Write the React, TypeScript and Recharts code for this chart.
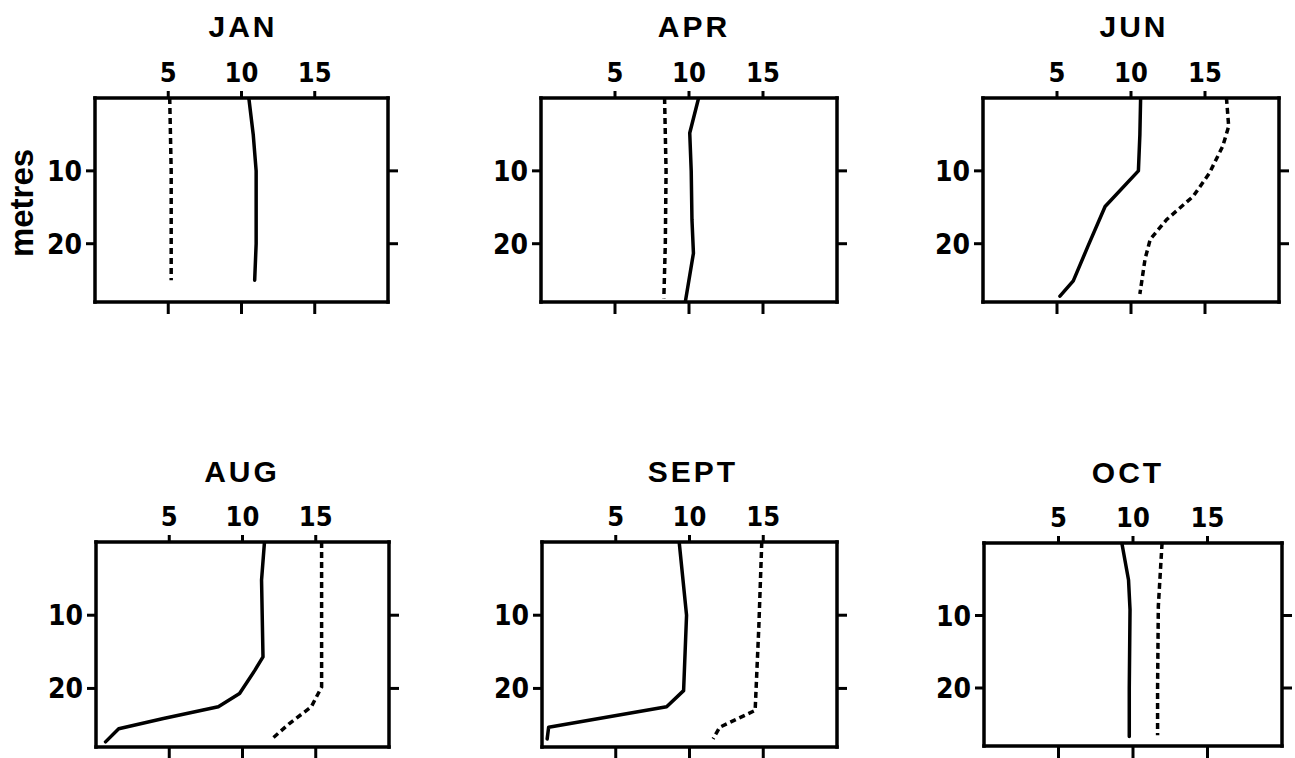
import React from 'react';
import { ScatterChart, Scatter, XAxis, YAxis } from 'recharts';

type Pt = { t: number; d: number };

const MONTHS = ['JAN', 'APR', 'JUN', 'AUG', 'SEPT', 'OCT'];
const TEMP_TICKS = [5, 10, 15];
const DEPTH_TICKS = [10, 20];
const TEMP_DOMAIN: [number, number] = [0, 20];
const DEPTH_DOMAIN: [number, number] = [0, 28];
const Y_LABEL = 'metres';

// solid profiles (temperature t vs depth d)
const janSolid: Pt[] = [{ t: 10.5, d: 0 }, { t: 10.8, d: 5 }, { t: 11.0, d: 10 }, { t: 11.0, d: 20 }, { t: 10.9, d: 25 }];
const aprSolid: Pt[] = [{ t: 10.65, d: 0 }, { t: 10.05, d: 4.8 }, { t: 10.15, d: 10 }, { t: 10.2, d: 16.7 }, { t: 10.3, d: 21.3 }, { t: 9.75, d: 28 }];
const junSolid: Pt[] = [{ t: 10.65, d: 0 }, { t: 10.6, d: 5 }, { t: 10.5, d: 10 }, { t: 8.25, d: 14.9 }, { t: 7.1, d: 20.3 }, { t: 6.1, d: 25.1 }, { t: 5.2, d: 27.2 }];
const augSolid: Pt[] = [{ t: 11.5, d: 0 }, { t: 11.3, d: 5.2 }, { t: 11.4, d: 15.7 }, { t: 10.85, d: 17.5 }, { t: 9.8, d: 20.7 }, { t: 8.35, d: 22.5 }, { t: 4.6, d: 24.1 }, { t: 1.55, d: 25.5 }, { t: 0.65, d: 27.3 }];
const septSolid: Pt[] = [{ t: 9.3, d: 0 }, { t: 9.8, d: 10 }, { t: 9.6, d: 20.3 }, { t: 8.45, d: 22.5 }, { t: 0.45, d: 25.3 }, { t: 0.35, d: 26.9 }];
const octSolid: Pt[] = [{ t: 9.25, d: 0 }, { t: 9.7, d: 5.1 }, { t: 9.8, d: 9.2 }, { t: 9.75, d: 20 }, { t: 9.75, d: 26.7 }];

// dashed profiles
const janDashed: Pt[] = [{ t: 5.1, d: 0 }, { t: 5.2, d: 10 }, { t: 5.2, d: 25 }];
const aprDashed: Pt[] = [{ t: 8.35, d: 0 }, { t: 8.45, d: 10 }, { t: 8.4, d: 20 }, { t: 8.3, d: 27.5 }];
const junDashed: Pt[] = [{ t: 16.45, d: 0 }, { t: 16.6, d: 3.9 }, { t: 16.2, d: 6.6 }, { t: 15.3, d: 10.3 }, { t: 14.2, d: 13.5 }, { t: 12.4, d: 16.7 }, { t: 11.3, d: 19.4 }, { t: 10.95, d: 22.1 }, { t: 10.6, d: 26.9 }];
const augDashed: Pt[] = [{ t: 15.4, d: 0 }, { t: 15.4, d: 10 }, { t: 15.4, d: 19.8 }, { t: 14.7, d: 22.5 }, { t: 13.2, d: 24.8 }, { t: 12.0, d: 26.9 }];
const septDashed: Pt[] = [{ t: 14.9, d: 0 }, { t: 14.7, d: 11.6 }, { t: 14.45, d: 23.0 }, { t: 12.05, d: 25.3 }, { t: 11.6, d: 26.9 }];
const octDashed: Pt[] = [{ t: 11.95, d: 0 }, { t: 11.7, d: 8.7 }, { t: 11.65, d: 20 }, { t: 11.65, d: 26.5 }];

const SOLID = [janSolid, aprSolid, junSolid, augSolid, septSolid, octSolid];
const DASHED = [janDashed, aprDashed, junDashed, augDashed, septDashed, octDashed];

// layout (plot boxes in page pixels)
const BOXES = [
  { l: 95, t: 98, r: 388, b: 302 },
  { l: 541, t: 98, r: 837, b: 302 },
  { l: 983, t: 98, r: 1279, b: 302 },
  { l: 96, t: 542, r: 389, b: 747 },
  { l: 542, t: 542, r: 837, b: 747 },
  { l: 984, t: 543, r: 1282, b: 746 },
];
const TITLE_POS = [
  { x: 243, y: 37 },
  { x: 694, y: 37 },
  { x: 1134, y: 37 },
  { x: 242, y: 482 },
  { x: 693, y: 482 },
  { x: 1128, y: 483 },
];

const TICK_FONT = "'DejaVu Sans Condensed', 'Liberation Sans Narrow', 'Liberation Sans', sans-serif";
const TITLE_FONT = "'Liberation Sans', Arial, sans-serif";

const axisLine = { stroke: '#000', strokeWidth: 3.5, strokeLinecap: 'square' as const };
const tickLine = { stroke: '#000', strokeWidth: 3 };
const blank = () => '';
const noShape = () => <g />;

function TopTick(props: any) {
  const { x, y, payload } = props;
  return (
    <text x={x} y={y} textAnchor="middle" fontFamily={TICK_FONT} fontWeight="bold" fontSize={27}
      fill="#000" style={{ fontStretch: 'condensed' }}>{payload.value}</text>
  );
}
function LeftTick(props: any) {
  const { x, y, payload } = props;
  return (
    <text x={x} y={y + 10} textAnchor="end" fontFamily={TICK_FONT} fontWeight="bold" fontSize={28}
      fill="#000" style={{ fontStretch: 'condensed' }}>{payload.value}</text>
  );
}

function Panel({ idx }: { idx: number }) {
  const box = BOXES[idx];
  const L = 70, T = 50, R = 25, B = 25;
  const w = box.r - box.l + L + R;
  const h = box.b - box.t + T + B;
  return (
    <div style={{ position: 'absolute', left: box.l - L, top: box.t - T, width: w, height: h }}>
      <ScatterChart width={w} height={h} margin={{ top: 10, left: 10, right: 5, bottom: 5 }}>
        <XAxis xAxisId="top" orientation="top" type="number" dataKey="t" domain={TEMP_DOMAIN} ticks={TEMP_TICKS}
          allowDataOverflow interval={0} height={40} axisLine={axisLine} tickLine={tickLine} tickSize={7} tickMargin={9} tick={<TopTick />} />
        <XAxis xAxisId="bot" orientation="bottom" type="number" dataKey="t" domain={TEMP_DOMAIN} ticks={TEMP_TICKS}
          allowDataOverflow interval={0} height={20} axisLine={axisLine} tickLine={tickLine} tickSize={12} tickFormatter={blank} />
        <YAxis yAxisId="left" orientation="left" type="number" dataKey="d" domain={DEPTH_DOMAIN} ticks={DEPTH_TICKS} reversed
          allowDataOverflow interval={0} width={60} axisLine={axisLine} tickLine={tickLine} tickSize={9} tickMargin={4} tick={<LeftTick />} />
        <YAxis yAxisId="right" orientation="right" type="number" dataKey="d" domain={DEPTH_DOMAIN} ticks={DEPTH_TICKS} reversed
          allowDataOverflow interval={0} width={20} axisLine={axisLine} tickLine={tickLine} tickSize={10} tickFormatter={blank} />
        <Scatter xAxisId="top" yAxisId="left" data={SOLID[idx]} shape={noShape} isAnimationActive={false}
          line={{ stroke: '#000', strokeWidth: 3.5, strokeLinejoin: 'round', strokeLinecap: 'round' }} fill="#000" />
        <Scatter xAxisId="bot" yAxisId="right" data={DASHED[idx]} shape={noShape} isAnimationActive={false}
          line={{ stroke: '#000', strokeWidth: 3.5, strokeDasharray: '6 4' }} fill="#000" />
      </ScatterChart>
    </div>
  );
}

export default function App() {
  return (
    <div style={{ position: 'absolute', left: 0, top: 0, width: 1295, height: 758, background: '#fff', overflow: 'hidden' }}>
      {MONTHS.map((_, i) => <Panel key={i} idx={i} />)}
      <svg width={1295} height={758} style={{ position: 'absolute', left: 0, top: 0, pointerEvents: 'none' }}>
        {MONTHS.map((m, i) => (
          <text key={m} x={TITLE_POS[i].x} y={TITLE_POS[i].y} textAnchor="middle" fontFamily={TITLE_FONT}
            fontWeight="bold" fontSize={30} letterSpacing={3} fill="#000">{m}</text>
        ))}
        <text x={0} y={0} transform="translate(33,203) rotate(-90)" textAnchor="middle" fontFamily={TITLE_FONT}
          fontWeight="bold" fontSize={33} fill="#000">{Y_LABEL}</text>
      </svg>
    </div>
  );
}
